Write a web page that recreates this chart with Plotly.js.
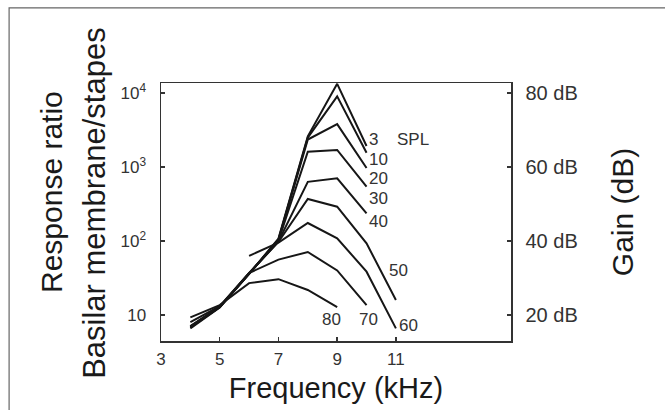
<!DOCTYPE html>
<html>
<head>
<meta charset="utf-8">
<script src="https://cdn.plot.ly/plotly-3.0.1.min.js"></script>
<style>
  html, body { margin: 0; padding: 0; background: #fff; }
  #chart { width: 665px; height: 410px; }
</style>
</head>
<body>
<div id="chart"></div>
<script>
// Stimulus levels (dB SPL) of each iso-level curve
const levels = ["3", "10", "20", "30", "40", "50", "60", "70", "80"];

// Frequency (kHz) samples of each curve
const freq3  = [4, 5, 6, 7, 8, 9, 10];
const freq10 = [4, 5, 6, 7, 8, 9, 10];
const freq20 = [4, 5, 6, 7, 8, 9, 10];
const freq30 = [4, 5, 6, 7, 8, 9, 10];
const freq40 = [4, 5, 6, 7, 8, 9, 10];
const freq50 = [4, 5, 6, 7, 8, 9, 10, 11];
const freq60 = [6, 7, 8, 9, 10, 11];
const freq70 = [4, 5, 6, 7, 8, 9, 10];
const freq80 = [4, 5, 6, 7, 8, 9];

// Response ratio (basilar membrane / stapes)
const ratio3  = [6.6, 12.6, 36, 108, 2600, 13300, 1920];
const ratio10 = [6.8, 12.7, 36, 105, 2500, 9000, 1560];
const ratio20 = [6.9, 12.8, 36, 103, 2350, 3800, 968];
const ratio30 = [7.0, 12.8, 36.5, 101, 1610, 1700, 542];
const ratio40 = [7.0, 12.9, 36.5, 99, 630, 703, 237];
const ratio50 = [7.1, 13.0, 37, 97, 370, 291, 93, 16];
const ratio60 = [63, 95, 175, 109, 38.5, 6.6];
const ratio70 = [8.0, 13.2, 37, 56, 71, 40, 13.6];
const ratio80 = [9.3, 13.6, 27, 30.5, 21.8, 12.8];

// Axis tick labels
const xTicks = [3, 5, 7, 9, 11];
const yTickVals = [10, 100, 1000, 10000];
const yTickText = ["10", "10<sup>2</sup>", "10<sup>3</sup>", "10<sup>4</sup>"];
const gainTicks = [20, 40, 60, 80];
const gainTickText = ["20 dB", "40 dB", "60 dB", "80 dB"];

const freqs = [freq3, freq10, freq20, freq30, freq40, freq50, freq60, freq70, freq80];
const ratios = [ratio3, ratio10, ratio20, ratio30, ratio40, ratio50, ratio60, ratio70, ratio80];

const traces = levels.map((lv, i) => ({
  type: "scatter",
  mode: "lines",
  name: lv + " dB SPL",
  x: freqs[i],
  y: ratios[i],
  line: { color: "#161616", width: 2 },
  hoverinfo: "x+y+name"
}));

// invisible trace to activate the right (gain) axis
traces.push({
  type: "scatter", mode: "lines", x: [3], y: [20], yaxis: "y2",
  showlegend: false, hoverinfo: "skip", line: { width: 0 }
});

const yLogMin = 0.649, yLogMax = 4.135;

const labelFont = { family: "Liberation Sans, Arial, sans-serif", size: 17, color: "#333" };
function lbl(text, x, y) {
  return { text: text, x: x, y: Math.log10(y), xref: "x", yref: "y",
           showarrow: false, xanchor: "center", yanchor: "middle",
           borderpad: 0, font: labelFont };
}

const titleFont = { family: "Liberation Sans, Arial, sans-serif", size: 30, color: "#1a1a1a" };

const layout = {
  width: 665, height: 410,
  margin: { l: 161, r: 154, t: 83, b: 69, pad: 0 },
  paper_bgcolor: "#fff", plot_bgcolor: "#fff",
  showlegend: false,
  font: { family: "Liberation Sans, Arial, sans-serif", color: "#333" },
  xaxis: {
    range: [3, 14.92],
    tickvals: xTicks,
    ticks: "inside", ticklen: 4, tickwidth: 1.5, tickcolor: "#333",
    showline: true, mirror: true, linecolor: "#333", linewidth: 1.5,
    showgrid: false, zeroline: false,
    ticklabelstandoff: 2,
    tickfont: { size: 17, color: "#333" },
    title: { text: "Frequency (kHz)", font: { family: "Liberation Sans, Arial, sans-serif", size: 29, color: "#1a1a1a" }, standoff: 10 }
  },
  yaxis: {
    type: "log",
    range: [yLogMin, yLogMax],
    tickvals: yTickVals, ticktext: yTickText,
    ticks: "inside", ticklen: 4, tickwidth: 1.5, tickcolor: "#333",
    showline: true, linecolor: "#333", linewidth: 1.5,
    showgrid: false, zeroline: false,
    ticklabelstandoff: 10,
    tickfont: { size: 17, color: "#333" }
  },
  yaxis2: {
    overlaying: "y", side: "right",
    range: [20 * yLogMin, 20 * yLogMax],
    tickvals: gainTicks, ticktext: gainTickText,
    ticks: "inside", ticklen: 4, tickwidth: 1.5, tickcolor: "#333",
    showline: true, linecolor: "#333", linewidth: 1.5,
    showgrid: false, zeroline: false,
    ticklabelstandoff: 9,
    tickfont: { size: 20, color: "#333" },
    title: { text: "Gain (dB)", font: titleFont, standoff: 35 }
  },
  annotations: [
    lbl("3", 10.25, 2390),
    lbl("SPL", 11.58, 2390),
    lbl("10", 10.42, 1282),
    lbl("20", 10.42, 689),
    lbl("30", 10.42, 370),
    lbl("40", 10.42, 186),
    lbl("50", 11.10, 40.5),
    lbl("60", 11.44, 7.3),
    lbl("70", 10.08, 8.8),
    lbl("80", 8.82, 8.8),
    { text: "Response ratio", xref: "paper", yref: "paper", x: -0.311, y: 0.578,
      textangle: -90, showarrow: false, xanchor: "center", yanchor: "middle", font: titleFont },
    { text: "Basilar membrane/stapes", xref: "paper", yref: "paper", x: -0.189, y: 0.535,
      textangle: -90, showarrow: false, xanchor: "center", yanchor: "middle",
      font: { family: "Liberation Sans, Arial, sans-serif", size: 31, color: "#1a1a1a" } }
  ],
  shapes: [
    { type: "rect", xref: "paper", yref: "paper",
      x0: -0.434, x1: 1.6, y0: -0.5, y1: 1.291,
      line: { color: "#666", width: 1.2 }, fillcolor: "rgba(0,0,0,0)", layer: "below" }
  ]
};

Plotly.newPlot("chart", traces, layout, { displayModeBar: false, staticPlot: true });
</script>
</body>
</html>
